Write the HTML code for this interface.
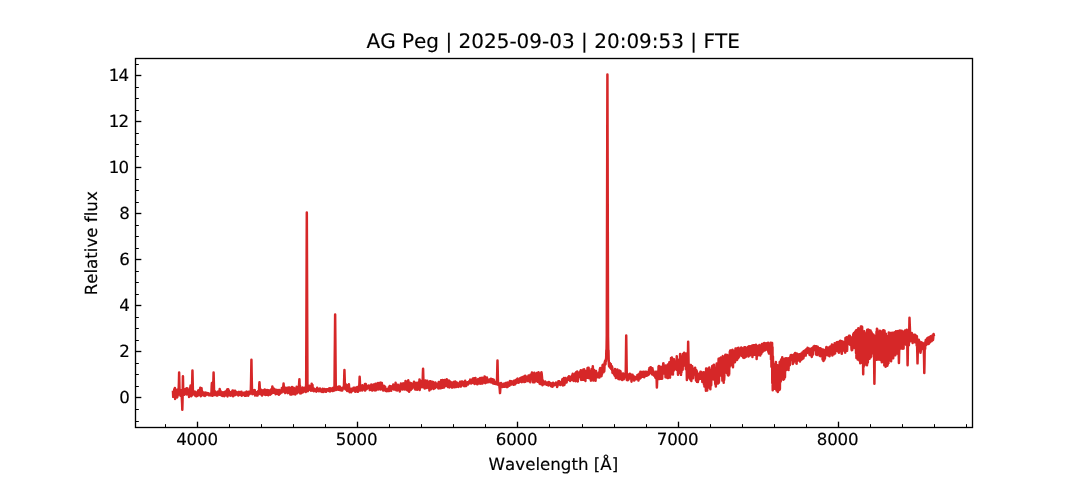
<!DOCTYPE html>
<html lang="en"><head><meta charset="utf-8"><title>AG Peg | 2025-09-03 | 20:09:53 | FTE</title>
<style>
html,body{margin:0;padding:0;background:#fff;overflow:hidden}
svg{display:block}
text{font-family:"DejaVu Sans","Liberation Sans",sans-serif;font-size:16.667px;fill:#000;stroke:#000;stroke-width:0.15px;font-variant-ligatures:none;font-feature-settings:"liga" 0,"clig" 0;font-kerning:none;text-rendering:geometricPrecision}
</style></head><body>
<svg width="1080" height="480" viewBox="0 0 1080 480">
<rect width="1080" height="480" fill="#fff"/>
<clipPath id="ax"><rect x="135" y="57.6" width="837" height="369.6"/></clipPath>
<g clip-path="url(#ax)">
<polyline points="173.00,392.02 173.21,396.85 173.42,392.28 173.63,393.43 173.85,393.72 174.06,391.61 174.27,389.31 174.48,395.68 174.69,394.73 174.90,388.09 175.11,398.99 175.33,396.56 175.54,391.29 175.75,396.28 175.96,392.22 176.17,393.42 176.38,395.85 176.59,390.09 176.81,395.20 177.02,397.41 177.23,397.14 177.44,392.84 177.65,395.98 177.86,389.38 178.07,393.22 178.28,394.82 178.50,390.09 178.71,388.70 178.92,382.46 179.13,372.50 179.34,381.50 179.55,390.60 179.76,391.09 179.98,390.41 180.19,389.85 180.40,395.14 180.61,395.72 180.82,391.89 181.03,390.33 181.24,394.39 181.46,394.50 181.67,393.26 181.88,399.37 182.09,403.08 182.30,409.75 182.51,401.93 182.72,390.66 182.94,376.15 183.15,387.42 183.36,393.48 183.57,394.34 183.78,393.91 183.99,394.48 184.20,394.45 184.42,394.59 184.63,391.18 184.84,393.74 185.05,389.23 185.26,393.58 185.47,389.83 185.68,392.67 185.89,393.99 186.11,391.69 186.32,392.96 186.53,388.33 186.74,390.31 186.95,394.43 187.16,389.32 187.37,394.29 187.59,388.57 187.80,390.04 188.01,389.64 188.22,392.71 188.43,394.17 188.64,390.10 188.85,392.46 189.07,397.03 189.28,392.30 189.49,391.20 189.70,394.13 189.91,392.77 190.12,390.34 190.33,387.09 190.55,385.62 190.76,388.20 190.97,391.72 191.18,391.35 191.39,396.13 191.60,395.03 191.81,395.47 192.03,388.28 192.24,379.86 192.45,370.62 192.66,380.28 192.87,388.98 193.08,393.73 193.29,393.30 193.51,392.76 193.72,392.51 193.93,394.48 194.14,393.67 194.35,391.62 194.56,393.88 194.77,395.43 194.98,393.82 195.20,391.67 195.41,393.67 195.62,394.82 195.83,393.83 196.04,392.64 196.25,396.31 196.46,396.34 196.68,392.70 196.89,394.43 197.10,393.45 197.31,394.23 197.52,395.77 197.73,394.26 197.94,392.50 198.16,390.70 198.37,390.30 198.58,392.19 198.79,395.06 199.00,392.96 199.21,392.34 199.42,392.84 199.64,392.28 199.85,393.53 200.06,389.37 200.27,387.79 200.48,391.08 200.69,389.24 200.90,396.19 201.12,391.70 201.33,391.45 201.54,388.16 201.75,392.79 201.96,390.70 202.17,395.04 202.38,394.59 202.59,392.15 202.81,394.32 203.02,392.24 203.23,393.76 203.44,395.47 203.65,395.05 203.86,394.47 204.07,394.27 204.29,392.97 204.50,393.00 204.71,394.46 204.92,395.90 205.13,392.44 205.34,394.81 205.55,394.77 205.77,395.10 205.98,393.32 206.19,393.63 206.40,394.18 206.61,393.10 206.82,392.88 207.03,393.20 207.25,394.00 207.46,394.44 207.67,394.02 207.88,394.11 208.09,393.31 208.30,393.25 208.51,395.16 208.73,393.91 208.94,393.87 209.15,394.94 209.36,395.26 209.57,395.29 209.78,394.35 209.99,393.85 210.21,394.21 210.42,394.08 210.63,395.39 210.84,394.18 211.05,394.55 211.26,393.81 211.47,392.58 211.68,386.48 211.90,383.12 212.11,387.57 212.32,390.38 212.53,395.83 212.74,393.60 212.95,393.58 213.16,388.02 213.38,381.11 213.59,372.50 213.80,380.45 214.01,389.11 214.22,394.47 214.43,395.07 214.64,393.92 214.86,392.55 215.07,393.01 215.28,391.51 215.49,392.79 215.70,394.50 215.91,394.18 216.12,393.50 216.34,393.22 216.55,395.53 216.76,393.96 216.97,394.72 217.18,394.09 217.39,392.77 217.60,395.54 217.82,391.71 218.03,391.54 218.24,392.51 218.45,391.85 218.66,391.96 218.87,391.71 219.08,394.59 219.29,392.68 219.51,393.19 219.72,389.09 219.93,390.89 220.14,394.82 220.35,390.72 220.56,395.05 220.77,391.55 220.99,393.80 221.20,392.32 221.41,393.90 221.62,392.73 221.83,393.67 222.04,395.77 222.25,393.46 222.47,396.00 222.68,393.23 222.89,392.26 223.10,393.79 223.31,393.09 223.52,396.01 223.73,394.76 223.95,395.21 224.16,394.39 224.37,396.16 224.58,394.60 224.79,394.15 225.00,391.87 225.21,391.65 225.43,393.46 225.64,394.87 225.85,395.08 226.06,391.32 226.27,394.00 226.48,393.35 226.69,390.84 226.90,393.92 227.12,389.47 227.33,393.40 227.54,396.38 227.75,390.78 227.96,392.84 228.17,389.14 228.38,391.17 228.60,394.29 228.81,390.56 229.02,392.82 229.23,392.38 229.44,392.53 229.65,393.66 229.86,394.24 230.08,395.40 230.29,394.90 230.50,393.30 230.71,395.65 230.92,395.45 231.13,391.97 231.34,394.69 231.56,394.87 231.77,395.04 231.98,394.41 232.19,391.63 232.40,393.08 232.61,390.58 232.82,393.10 233.04,396.29 233.25,394.40 233.46,394.64 233.67,392.15 233.88,391.11 234.09,390.89 234.30,393.24 234.52,391.64 234.73,392.06 234.94,395.21 235.15,390.68 235.36,391.38 235.57,392.76 235.78,393.47 235.99,393.52 236.21,391.95 236.42,394.12 236.63,393.81 236.84,394.45 237.05,392.84 237.26,394.33 237.47,394.30 237.69,393.29 237.90,393.79 238.11,393.40 238.32,395.58 238.53,391.91 238.74,392.35 238.95,392.04 239.17,393.57 239.38,393.22 239.59,393.52 239.80,394.84 240.01,392.08 240.22,392.99 240.43,393.71 240.65,392.55 240.86,394.37 241.07,394.32 241.28,393.09 241.49,391.85 241.70,395.75 241.91,394.43 242.13,394.36 242.34,393.94 242.55,393.83 242.76,394.78 242.97,393.77 243.18,393.01 243.39,394.57 243.60,393.77 243.82,392.74 244.03,392.54 244.24,395.05 244.45,394.37 244.66,395.85 244.87,392.87 245.08,392.56 245.30,393.99 245.51,395.22 245.72,394.19 245.93,393.95 246.14,395.76 246.35,392.34 246.56,391.63 246.78,392.27 246.99,392.81 247.20,393.73 247.41,394.60 247.62,393.72 247.83,395.26 248.04,391.96 248.26,395.64 248.47,391.94 248.68,394.71 248.89,391.71 249.10,393.50 249.31,393.06 249.52,393.71 249.74,394.03 249.95,392.62 250.16,392.81 250.37,393.23 250.58,390.96 250.79,391.77 251.00,383.52 251.22,372.56 251.43,359.75 251.64,372.94 251.85,384.29 252.06,391.66 252.27,394.15 252.48,391.96 252.69,390.23 252.91,391.09 253.12,391.02 253.33,391.05 253.54,393.67 253.75,392.72 253.96,390.23 254.17,391.72 254.39,390.74 254.60,390.60 254.81,390.09 255.02,395.44 255.23,392.04 255.44,393.51 255.65,394.00 255.87,391.92 256.08,393.46 256.29,393.47 256.50,392.94 256.71,395.59 256.92,393.05 257.13,392.19 257.35,393.68 257.56,395.61 257.77,394.28 257.98,391.76 258.19,391.11 258.40,390.98 258.61,391.44 258.83,393.26 259.04,391.39 259.25,385.06 259.46,382.25 259.67,385.50 259.88,391.14 260.09,394.13 260.30,391.21 260.52,391.77 260.73,390.90 260.94,393.20 261.15,389.76 261.36,390.59 261.57,391.34 261.78,394.60 262.00,395.54 262.21,392.52 262.42,390.39 262.63,392.60 262.84,390.99 263.05,393.25 263.26,390.57 263.48,391.83 263.69,392.42 263.90,393.32 264.11,392.30 264.32,394.57 264.53,392.63 264.74,389.40 264.96,393.97 265.17,391.91 265.38,391.27 265.59,394.91 265.80,390.72 266.01,392.49 266.22,391.17 266.44,394.60 266.65,391.74 266.86,392.73 267.07,390.03 267.28,394.68 267.49,390.55 267.70,393.80 267.92,394.12 268.13,394.30 268.34,395.20 268.55,390.36 268.76,392.92 268.97,392.47 269.18,392.91 269.39,394.01 269.61,392.38 269.82,390.85 270.03,392.01 270.24,394.68 270.45,390.20 270.66,392.25 270.87,390.49 271.09,393.92 271.30,389.35 271.51,391.49 271.72,391.84 271.93,390.94 272.14,389.79 272.35,386.50 272.57,387.95 272.78,393.03 272.99,389.95 273.20,388.94 273.41,389.41 273.62,392.24 273.83,392.78 274.05,388.86 274.26,392.59 274.47,391.39 274.68,393.01 274.89,391.16 275.10,393.31 275.31,392.73 275.53,389.77 275.74,394.20 275.95,392.09 276.16,392.95 276.37,393.85 276.58,390.01 276.79,391.52 277.00,390.24 277.22,390.02 277.43,392.07 277.64,392.19 277.85,393.92 278.06,394.02 278.27,391.56 278.48,390.12 278.70,394.77 278.91,394.78 279.12,391.40 279.33,389.90 279.54,390.81 279.75,392.09 279.96,393.67 280.18,393.38 280.39,392.38 280.60,391.10 280.81,391.88 281.02,390.97 281.23,391.69 281.44,391.36 281.66,392.57 281.87,388.09 282.08,390.87 282.29,390.97 282.50,389.30 282.71,391.19 282.92,389.42 283.14,388.68 283.35,386.38 283.56,383.50 283.77,386.15 283.98,391.44 284.19,391.89 284.40,392.12 284.62,391.92 284.83,390.06 285.04,389.60 285.25,393.10 285.46,390.64 285.67,387.74 285.88,387.72 286.09,391.76 286.31,389.78 286.52,391.13 286.73,390.13 286.94,390.39 287.15,390.85 287.36,388.65 287.57,391.13 287.79,393.15 288.00,392.54 288.21,387.57 288.42,388.36 288.63,388.36 288.84,390.54 289.05,392.76 289.27,391.66 289.48,387.44 289.69,391.08 289.90,392.58 290.11,390.02 290.32,394.51 290.53,389.55 290.75,393.28 290.96,394.50 291.17,388.16 291.38,390.12 291.59,391.99 291.80,394.49 292.01,386.98 292.23,391.92 292.44,391.30 292.65,389.76 292.86,388.83 293.07,389.48 293.28,389.94 293.49,387.78 293.70,394.06 293.92,388.07 294.13,389.56 294.34,389.01 294.55,389.54 294.76,390.67 294.97,388.70 295.18,389.87 295.40,394.38 295.61,392.82 295.82,389.65 296.03,392.44 296.24,388.45 296.45,390.79 296.66,386.78 296.88,387.42 297.09,388.05 297.30,393.18 297.51,390.68 297.72,391.45 297.93,390.44 298.14,390.95 298.36,391.07 298.57,391.93 298.78,390.36 298.99,385.73 299.20,382.67 299.41,379.37 299.62,384.82 299.84,388.57 300.05,386.06 300.26,393.45 300.47,390.62 300.68,389.77 300.89,389.97 301.10,389.23 301.31,393.16 301.53,392.89 301.74,388.21 301.95,389.68 302.16,390.44 302.37,391.78 302.58,387.54 302.79,391.22 303.01,392.20 303.22,389.46 303.43,389.82 303.64,391.56 303.85,390.34 304.06,387.97 304.27,388.16 304.49,388.32 304.70,387.76 304.91,389.68 305.12,388.95 305.33,389.70 305.54,390.60 305.75,392.08 305.97,389.87 306.18,382.77 306.39,328.93 306.60,270.02 306.81,212.50 307.02,269.82 307.23,327.83 307.45,384.89 307.66,389.32 307.87,391.15 308.08,388.37 308.29,389.52 308.50,389.57 308.71,388.67 308.93,386.40 309.14,389.53 309.35,385.80 309.56,385.96 309.77,387.66 309.98,389.25 310.19,390.05 310.40,389.92 310.62,389.32 310.83,386.95 311.04,390.69 311.25,386.85 311.46,390.44 311.67,383.74 311.88,385.83 312.10,386.89 312.31,388.26 312.52,385.04 312.73,390.02 312.94,390.38 313.15,390.09 313.36,388.23 313.58,391.13 313.79,388.56 314.00,390.41 314.21,389.21 314.42,389.27 314.63,389.12 314.84,389.30 315.06,390.66 315.27,391.09 315.48,391.11 315.69,390.53 315.90,390.28 316.11,390.06 316.32,391.65 316.54,389.07 316.75,388.88 316.96,389.73 317.17,387.72 317.38,389.46 317.59,389.72 317.80,388.63 318.01,389.22 318.23,390.75 318.44,389.74 318.65,390.14 318.86,391.26 319.07,389.49 319.28,388.97 319.49,390.23 319.71,390.78 319.92,388.47 320.13,391.09 320.34,390.13 320.55,390.07 320.76,389.69 320.97,390.36 321.19,391.39 321.40,391.00 321.61,391.23 321.82,390.19 322.03,391.87 322.24,391.58 322.45,390.44 322.67,388.79 322.88,390.47 323.09,392.06 323.30,390.33 323.51,389.46 323.72,391.83 323.93,389.78 324.15,390.74 324.36,390.96 324.57,388.96 324.78,390.36 324.99,391.28 325.20,389.92 325.41,390.77 325.63,390.15 325.84,391.06 326.05,391.78 326.26,389.13 326.47,389.83 326.68,390.42 326.89,389.49 327.10,389.29 327.32,389.70 327.53,389.75 327.74,389.37 327.95,390.24 328.16,390.65 328.37,390.57 328.58,390.48 328.80,390.94 329.01,388.53 329.22,389.67 329.43,389.93 329.64,390.22 329.85,388.16 330.06,391.46 330.28,388.79 330.49,389.87 330.70,390.30 330.91,390.61 331.12,388.86 331.33,388.97 331.54,389.84 331.76,390.03 331.97,390.33 332.18,389.34 332.39,388.67 332.60,387.99 332.81,391.08 333.02,387.88 333.24,389.97 333.45,389.51 333.66,389.99 333.87,390.16 334.08,390.55 334.29,389.06 334.50,387.69 334.71,361.74 334.93,338.74 335.14,314.45 335.35,338.62 335.56,363.76 335.77,387.24 335.98,390.09 336.19,388.68 336.41,389.30 336.62,388.40 336.83,386.82 337.04,388.03 337.25,388.48 337.46,388.92 337.67,388.72 337.89,388.56 338.10,389.71 338.31,389.33 338.52,388.18 338.73,389.56 338.94,386.51 339.15,388.23 339.37,388.36 339.58,389.95 339.79,387.87 340.00,386.79 340.21,388.61 340.42,390.34 340.63,388.09 340.85,388.19 341.06,388.02 341.27,388.30 341.48,389.84 341.69,390.49 341.90,388.74 342.11,387.96 342.33,390.48 342.54,388.16 342.75,388.08 342.96,387.45 343.17,387.47 343.38,388.23 343.59,387.43 343.80,388.43 344.02,383.89 344.23,377.22 344.44,370.00 344.65,376.70 344.86,383.94 345.07,387.71 345.28,387.73 345.50,389.44 345.71,385.72 345.92,384.43 346.13,388.65 346.34,386.99 346.55,389.87 346.76,387.29 346.98,385.18 347.19,391.05 347.40,388.35 347.61,386.54 347.82,385.85 348.03,388.87 348.24,385.95 348.46,388.56 348.67,390.58 348.88,384.37 349.09,387.31 349.30,389.52 349.51,392.17 349.72,390.87 349.94,388.65 350.15,391.99 350.36,389.48 350.57,390.03 350.78,390.68 350.99,389.04 351.20,392.23 351.41,391.50 351.63,390.39 351.84,389.50 352.05,388.81 352.26,390.48 352.47,390.81 352.68,389.57 352.89,389.76 353.11,390.57 353.32,389.86 353.53,387.83 353.74,390.61 353.95,390.11 354.16,390.62 354.37,388.93 354.59,387.67 354.80,388.32 355.01,390.03 355.22,391.77 355.43,391.77 355.64,389.97 355.85,387.84 356.07,389.15 356.28,390.09 356.49,390.06 356.70,389.60 356.91,391.19 357.12,388.25 357.33,386.97 357.55,388.19 357.76,387.76 357.97,391.84 358.18,389.03 358.39,387.23 358.60,390.14 358.81,390.69 359.03,389.27 359.24,386.63 359.45,382.24 359.66,376.87 359.87,381.16 360.08,387.00 360.29,390.45 360.50,389.45 360.72,390.24 360.93,389.71 361.14,388.30 361.35,388.37 361.56,389.57 361.77,387.54 361.98,390.35 362.20,390.41 362.41,385.17 362.62,388.06 362.83,386.80 363.04,386.92 363.25,388.23 363.46,387.59 363.68,388.84 363.89,388.34 364.10,388.36 364.31,386.17 364.52,386.89 364.73,390.20 364.94,384.05 365.16,390.62 365.37,386.31 365.58,389.59 365.79,383.99 366.00,386.56 366.21,388.95 366.42,387.62 366.64,389.26 366.85,385.66 367.06,386.25 367.27,386.07 367.48,388.27 367.69,388.18 367.90,387.06 368.11,386.78 368.33,386.72 368.54,387.44 368.75,385.46 368.96,387.15 369.17,386.98 369.38,386.22 369.59,386.15 369.81,390.07 370.02,386.05 370.23,388.02 370.44,389.85 370.65,388.64 370.86,387.25 371.07,389.15 371.29,384.45 371.50,384.82 371.71,386.42 371.92,386.75 372.13,386.99 372.34,390.59 372.55,390.42 372.77,387.08 372.98,387.64 373.19,385.38 373.40,387.75 373.61,384.52 373.82,389.84 374.03,386.11 374.25,388.19 374.46,384.56 374.67,389.81 374.88,388.28 375.09,390.54 375.30,387.19 375.51,383.83 375.72,385.46 375.94,384.48 376.15,390.15 376.36,385.69 376.57,385.40 376.78,388.13 376.99,387.44 377.20,387.89 377.42,385.81 377.63,383.13 377.84,383.95 378.05,383.05 378.26,389.54 378.47,388.75 378.68,385.95 378.90,388.12 379.11,388.23 379.32,388.14 379.53,387.90 379.74,388.69 379.95,386.87 380.16,382.69 380.38,382.72 380.59,389.59 380.80,388.09 381.01,382.81 381.22,387.17 381.43,384.84 381.64,385.60 381.86,382.93 382.07,388.56 382.28,386.69 382.49,388.69 382.70,389.30 382.91,389.75 383.12,390.54 383.34,387.60 383.55,387.46 383.76,385.64 383.97,388.39 384.18,387.22 384.39,385.99 384.60,390.14 384.81,389.60 385.03,386.69 385.24,387.27 385.45,389.38 385.66,388.77 385.87,390.92 386.08,390.01 386.29,390.40 386.51,390.74 386.72,391.13 386.93,389.27 387.14,390.23 387.35,389.73 387.56,390.33 387.77,389.98 387.99,391.03 388.20,389.83 388.41,388.40 388.62,389.13 388.83,387.29 389.04,389.28 389.25,390.96 389.47,387.75 389.68,386.05 389.89,388.38 390.10,387.62 390.31,388.35 390.52,387.29 390.73,388.33 390.95,386.35 391.16,390.80 391.37,387.55 391.58,388.83 391.79,389.24 392.00,387.44 392.21,388.54 392.42,387.09 392.64,386.60 392.85,386.96 393.06,388.37 393.27,384.57 393.48,385.23 393.69,385.35 393.90,385.82 394.12,389.59 394.33,386.93 394.54,386.29 394.75,387.26 394.96,389.26 395.17,385.21 395.38,389.12 395.60,382.87 395.81,384.80 396.02,390.04 396.23,390.19 396.44,387.17 396.65,385.77 396.86,388.67 397.08,385.80 397.29,390.46 397.50,389.64 397.71,388.67 397.92,384.72 398.13,389.26 398.34,386.20 398.56,386.24 398.77,385.75 398.98,386.55 399.19,388.20 399.40,389.16 399.61,389.21 399.82,391.55 400.04,385.96 400.25,389.98 400.46,384.94 400.67,386.11 400.88,383.51 401.09,389.52 401.30,386.99 401.51,386.56 401.73,385.86 401.94,388.24 402.15,384.79 402.36,386.76 402.57,389.57 402.78,385.43 402.99,384.30 403.21,383.38 403.42,387.55 403.63,385.81 403.84,383.88 404.05,383.66 404.26,385.64 404.47,383.19 404.69,389.46 404.90,385.04 405.11,385.04 405.32,385.22 405.53,381.06 405.74,381.89 405.95,384.48 406.17,385.27 406.38,382.29 406.59,389.65 406.80,386.68 407.01,389.03 407.22,388.85 407.43,385.04 407.65,390.53 407.86,386.17 408.07,380.34 408.28,380.28 408.49,386.00 408.70,388.89 408.91,386.36 409.12,391.75 409.34,385.23 409.55,388.32 409.76,389.04 409.97,382.73 410.18,387.45 410.39,387.46 410.60,389.74 410.82,389.86 411.03,388.86 411.24,383.20 411.45,387.60 411.66,388.36 411.87,385.17 412.08,387.20 412.30,387.28 412.51,388.48 412.72,385.31 412.93,386.48 413.14,385.67 413.35,385.30 413.56,383.29 413.78,384.11 413.99,381.75 414.20,384.52 414.41,387.21 414.62,387.01 414.83,387.42 415.04,384.79 415.26,389.46 415.47,383.73 415.68,387.56 415.89,386.48 416.10,382.82 416.31,382.93 416.52,387.41 416.74,385.12 416.95,385.74 417.16,389.80 417.37,386.42 417.58,385.03 417.79,386.69 418.00,382.85 418.21,384.02 418.43,385.81 418.64,382.27 418.85,384.57 419.06,384.16 419.27,385.08 419.48,379.45 419.69,389.97 419.91,384.64 420.12,386.70 420.33,381.69 420.54,380.82 420.75,385.12 420.96,383.92 421.17,386.92 421.39,381.95 421.60,381.76 421.81,385.67 422.02,386.65 422.23,387.18 422.44,384.41 422.65,381.50 422.87,373.98 423.08,368.75 423.29,376.19 423.50,383.57 423.71,380.16 423.92,387.34 424.13,382.73 424.35,386.33 424.56,386.15 424.77,388.57 424.98,384.15 425.19,383.59 425.40,381.27 425.61,380.51 425.82,386.60 426.04,381.20 426.25,386.94 426.46,383.02 426.67,382.32 426.88,388.00 427.09,387.63 427.30,380.74 427.52,383.79 427.73,384.38 427.94,386.89 428.15,381.67 428.36,382.85 428.57,383.98 428.78,386.99 429.00,387.80 429.21,382.96 429.42,390.49 429.63,386.51 429.84,382.99 430.05,381.14 430.26,384.40 430.48,381.30 430.69,386.52 430.90,387.45 431.11,389.20 431.32,387.29 431.53,381.94 431.74,385.31 431.96,387.54 432.17,381.79 432.38,384.02 432.59,387.14 432.80,385.86 433.01,381.91 433.22,384.62 433.44,385.64 433.65,388.92 433.86,384.66 434.07,383.70 434.28,385.91 434.49,386.05 434.70,386.49 434.91,388.20 435.13,385.14 435.34,382.45 435.55,385.28 435.76,385.20 435.97,387.13 436.18,386.84 436.39,383.50 436.61,386.63 436.82,387.09 437.03,384.53 437.24,386.93 437.45,385.21 437.66,385.20 437.87,384.45 438.09,386.51 438.30,388.49 438.51,385.16 438.72,382.00 438.93,384.05 439.14,383.21 439.35,385.24 439.57,384.14 439.78,388.37 439.99,386.12 440.20,388.31 440.41,382.66 440.62,383.78 440.83,388.18 441.05,380.30 441.26,384.48 441.47,380.53 441.68,387.62 441.89,380.77 442.10,383.30 442.31,383.55 442.52,380.04 442.74,387.79 442.95,383.45 443.16,387.57 443.37,382.17 443.58,380.38 443.79,384.17 444.00,384.07 444.22,387.49 444.43,381.17 444.64,379.98 444.85,381.89 445.06,384.13 445.27,384.68 445.48,381.68 445.70,382.54 445.91,384.52 446.12,385.69 446.33,381.88 446.54,383.52 446.75,379.13 446.96,381.01 447.18,384.22 447.39,383.21 447.60,382.81 447.81,387.01 448.02,382.57 448.23,380.66 448.44,383.75 448.66,383.75 448.87,380.51 449.08,385.68 449.29,387.41 449.50,381.83 449.71,381.13 449.92,383.08 450.13,386.38 450.35,382.10 450.56,381.85 450.77,382.30 450.98,384.27 451.19,384.30 451.40,383.58 451.61,386.48 451.83,387.56 452.04,383.12 452.25,386.27 452.46,384.92 452.67,387.55 452.88,382.89 453.09,383.84 453.31,384.63 453.52,381.98 453.73,384.08 453.94,385.65 454.15,382.01 454.36,384.65 454.57,387.32 454.79,383.46 455.00,382.98 455.21,381.50 455.42,384.26 455.63,381.88 455.84,385.30 456.05,386.97 456.27,385.29 456.48,383.23 456.69,385.41 456.90,383.73 457.11,382.77 457.32,383.70 457.53,384.77 457.75,383.91 457.96,385.17 458.17,386.89 458.38,385.27 458.59,385.45 458.80,383.52 459.01,386.19 459.22,384.83 459.44,385.71 459.65,383.21 459.86,384.58 460.07,381.65 460.28,383.69 460.49,382.97 460.70,382.70 460.92,386.57 461.13,381.86 461.34,383.81 461.55,383.79 461.76,384.74 461.97,385.41 462.18,381.54 462.40,383.06 462.61,382.78 462.82,384.84 463.03,385.17 463.24,383.11 463.45,382.88 463.66,382.12 463.88,384.20 464.09,386.17 464.30,384.16 464.51,382.44 464.72,382.20 464.93,382.35 465.14,380.82 465.36,386.12 465.57,383.43 465.78,382.73 465.99,386.07 466.20,383.52 466.41,385.51 466.62,383.49 466.83,384.80 467.05,383.06 467.26,382.28 467.47,383.52 467.68,383.98 467.89,384.56 468.10,383.02 468.31,382.20 468.53,381.94 468.74,383.05 468.95,381.63 469.16,381.85 469.37,383.30 469.58,383.33 469.79,383.14 470.01,380.89 470.22,379.61 470.43,382.58 470.64,382.25 470.85,381.32 471.06,382.31 471.27,383.42 471.49,381.50 471.70,382.55 471.91,380.04 472.12,381.37 472.33,380.25 472.54,379.11 472.75,382.46 472.97,378.43 473.18,381.51 473.39,382.99 473.60,382.28 473.81,378.74 474.02,381.93 474.23,378.26 474.45,379.84 474.66,383.98 474.87,381.66 475.08,383.46 475.29,379.34 475.50,378.08 475.71,379.91 475.92,383.53 476.14,382.85 476.35,383.09 476.56,380.87 476.77,380.95 476.98,380.72 477.19,384.24 477.40,381.18 477.62,384.17 477.83,380.63 478.04,383.42 478.25,378.91 478.46,379.93 478.67,381.46 478.88,379.72 479.10,379.99 479.31,380.41 479.52,379.66 479.73,383.53 479.94,382.72 480.15,377.93 480.36,383.76 480.58,380.42 480.79,380.40 481.00,380.10 481.21,382.05 481.42,381.71 481.63,379.31 481.84,380.38 482.06,377.71 482.27,383.60 482.48,378.51 482.69,378.40 482.90,378.69 483.11,380.34 483.32,381.51 483.53,379.29 483.75,380.01 483.96,379.24 484.17,382.46 484.38,380.31 484.59,376.40 484.80,382.76 485.01,380.43 485.23,383.25 485.44,378.71 485.65,379.03 485.86,379.71 486.07,377.62 486.28,379.53 486.49,382.33 486.71,381.44 486.92,377.52 487.13,382.40 487.34,381.04 487.55,381.74 487.76,380.71 487.97,380.97 488.19,380.86 488.40,380.92 488.61,379.73 488.82,382.15 489.03,381.20 489.24,381.38 489.45,381.32 489.67,380.54 489.88,380.81 490.09,379.26 490.30,381.17 490.51,381.17 490.72,380.52 490.93,378.64 491.15,382.48 491.36,380.54 491.57,380.72 491.78,380.32 491.99,379.93 492.20,380.16 492.41,379.18 492.62,380.02 492.84,383.28 493.05,382.65 493.26,383.53 493.47,380.88 493.68,379.72 493.89,380.56 494.10,380.27 494.32,383.45 494.53,383.73 494.74,382.90 494.95,383.32 495.16,383.44 495.37,383.12 495.58,383.99 495.80,382.46 496.01,383.09 496.22,383.47 496.43,381.95 496.64,382.71 496.85,384.24 497.06,378.86 497.28,368.85 497.49,360.62 497.70,369.86 497.91,379.44 498.12,384.08 498.33,384.82 498.54,382.90 498.76,384.09 498.97,383.25 499.18,383.88 499.39,385.75 499.60,387.81 499.81,389.81 500.02,393.12 500.23,390.23 500.45,387.08 500.66,386.82 500.87,385.59 501.08,382.89 501.29,385.08 501.50,384.72 501.71,384.24 501.93,385.34 502.14,385.31 502.35,384.91 502.56,387.04 502.77,385.73 502.98,385.73 503.19,385.41 503.41,386.62 503.62,383.84 503.83,386.56 504.04,384.80 504.25,386.86 504.46,386.76 504.67,385.59 504.89,384.37 505.10,385.25 505.31,385.31 505.52,382.92 505.73,384.34 505.94,383.80 506.15,386.53 506.37,386.96 506.58,383.60 506.79,383.82 507.00,382.65 507.21,384.84 507.42,385.59 507.63,386.96 507.85,382.45 508.06,385.68 508.27,384.03 508.48,383.11 508.69,383.63 508.90,382.92 509.11,384.70 509.32,383.94 509.54,385.67 509.75,382.99 509.96,380.95 510.17,382.16 510.38,384.07 510.59,381.30 510.80,382.30 511.02,384.12 511.23,381.25 511.44,384.41 511.65,383.60 511.86,382.19 512.07,382.89 512.28,382.16 512.50,382.24 512.71,382.26 512.92,382.68 513.13,382.45 513.34,381.46 513.55,381.06 513.76,384.83 513.98,380.76 514.19,381.99 514.40,383.75 514.61,383.39 514.82,380.99 515.03,384.32 515.24,384.23 515.46,381.36 515.67,380.05 515.88,382.55 516.09,381.38 516.30,381.17 516.51,380.40 516.72,380.63 516.93,381.65 517.15,382.65 517.36,378.69 517.57,378.62 517.78,382.60 517.99,379.93 518.20,382.11 518.41,381.21 518.63,382.84 518.84,382.29 519.05,380.48 519.26,380.60 519.47,381.27 519.68,381.86 519.89,379.73 520.11,378.31 520.32,380.73 520.53,380.46 520.74,380.23 520.95,378.86 521.16,381.31 521.37,377.59 521.59,379.48 521.80,382.26 522.01,378.32 522.22,380.74 522.43,380.74 522.64,380.65 522.85,377.05 523.07,381.52 523.28,379.99 523.49,380.54 523.70,380.15 523.91,379.66 524.12,381.66 524.33,382.01 524.54,376.10 524.76,377.89 524.97,378.94 525.18,375.83 525.39,381.85 525.60,377.60 525.81,380.06 526.02,379.35 526.24,378.45 526.45,376.85 526.66,378.04 526.87,378.86 527.08,380.18 527.29,378.15 527.50,377.70 527.72,377.93 527.93,381.12 528.14,378.95 528.35,376.79 528.56,375.40 528.77,377.22 528.98,375.98 529.20,377.04 529.41,381.24 529.62,379.61 529.83,378.43 530.04,378.82 530.25,382.16 530.46,374.71 530.68,378.81 530.89,377.01 531.10,377.89 531.31,377.67 531.52,376.60 531.73,378.98 531.94,372.57 532.16,378.29 532.37,379.37 532.58,374.89 532.79,374.84 533.00,382.21 533.21,375.08 533.42,376.51 533.63,375.45 533.85,375.89 534.06,375.74 534.27,372.74 534.48,382.20 534.69,375.62 534.90,378.60 535.11,377.38 535.33,381.28 535.54,379.53 535.75,380.78 535.96,380.93 536.17,380.05 536.38,377.79 536.59,380.33 536.81,373.09 537.02,380.34 537.23,379.83 537.44,378.68 537.65,373.78 537.86,381.86 538.07,375.76 538.29,379.77 538.50,372.32 538.71,377.31 538.92,375.83 539.13,375.41 539.34,375.77 539.55,383.49 539.77,377.83 539.98,379.09 540.19,383.93 540.40,373.19 540.61,383.99 540.82,377.15 541.03,376.25 541.24,377.20 541.46,372.33 541.67,373.75 541.88,375.80 542.09,378.43 542.30,383.55 542.51,385.22 542.72,380.37 542.94,383.05 543.15,383.43 543.36,381.74 543.57,383.24 543.78,381.45 543.99,384.32 544.20,382.66 544.42,383.38 544.63,383.96 544.84,383.86 545.05,382.40 545.26,381.51 545.47,383.88 545.68,383.21 545.90,383.29 546.11,383.97 546.32,383.06 546.53,384.80 546.74,384.71 546.95,382.83 547.16,384.64 547.38,382.79 547.59,385.09 547.80,384.92 548.01,384.09 548.22,385.22 548.43,385.36 548.64,384.62 548.86,381.91 549.07,384.23 549.28,384.30 549.49,385.03 549.70,383.08 549.91,385.11 550.12,384.80 550.33,384.95 550.55,383.07 550.76,383.60 550.97,386.13 551.18,385.86 551.39,384.81 551.60,386.39 551.81,385.43 552.03,384.64 552.24,383.18 552.45,386.71 552.66,385.15 552.87,385.61 553.08,382.81 553.29,384.46 553.51,385.57 553.72,384.77 553.93,384.05 554.14,383.47 554.35,385.27 554.56,384.41 554.77,384.41 554.99,384.43 555.20,383.87 555.41,384.28 555.62,383.82 555.83,384.70 556.04,382.61 556.25,382.96 556.47,384.57 556.68,384.23 556.89,384.67 557.10,387.12 557.31,385.47 557.52,386.01 557.73,384.89 557.94,384.03 558.16,382.94 558.37,381.33 558.58,381.88 558.79,381.20 559.00,382.15 559.21,381.28 559.42,382.15 559.64,383.58 559.85,382.84 560.06,384.89 560.27,384.83 560.48,384.95 560.69,384.59 560.90,383.47 561.12,382.00 561.33,383.61 561.54,382.25 561.75,382.23 561.96,383.25 562.17,380.38 562.38,379.25 562.60,382.81 562.81,385.48 563.02,384.14 563.23,385.37 563.44,379.04 563.65,380.41 563.86,378.03 564.08,379.75 564.29,385.01 564.50,384.59 564.71,379.08 564.92,380.41 565.13,379.25 565.34,378.07 565.56,380.17 565.77,379.87 565.98,380.56 566.19,380.73 566.40,381.39 566.61,382.47 566.82,379.66 567.03,379.29 567.25,379.53 567.46,380.13 567.67,379.01 567.88,377.46 568.09,378.10 568.30,379.96 568.51,377.07 568.73,379.73 568.94,376.31 569.15,379.34 569.36,379.27 569.57,377.93 569.78,378.18 569.99,377.77 570.21,380.98 570.42,377.29 570.63,376.71 570.84,378.62 571.05,379.92 571.26,378.46 571.47,377.50 571.69,379.69 571.90,376.20 572.11,376.08 572.32,375.09 572.53,379.97 572.74,373.79 572.95,374.72 573.17,377.88 573.38,378.18 573.59,381.02 573.80,378.13 574.01,376.04 574.22,380.21 574.43,379.47 574.64,379.66 574.86,379.43 575.07,378.10 575.28,373.33 575.49,374.22 575.70,381.23 575.91,376.87 576.12,372.14 576.34,376.84 576.55,379.25 576.76,377.71 576.97,376.64 577.18,371.61 577.39,376.71 577.60,376.11 577.82,381.41 578.03,376.49 578.24,376.30 578.45,375.10 578.66,376.05 578.87,377.25 579.08,374.78 579.30,373.57 579.51,372.38 579.72,376.72 579.93,375.15 580.14,375.22 580.35,371.21 580.56,373.49 580.78,370.34 580.99,379.22 581.20,379.92 581.41,377.30 581.62,375.51 581.83,377.39 582.04,370.79 582.26,371.26 582.47,379.63 582.68,372.10 582.89,375.38 583.10,373.22 583.31,369.54 583.52,373.09 583.73,378.15 583.95,379.78 584.16,369.26 584.37,369.74 584.58,373.11 584.79,378.55 585.00,379.31 585.21,380.57 585.43,380.89 585.64,373.36 585.85,371.28 586.06,378.08 586.27,373.79 586.48,374.77 586.69,373.31 586.91,373.13 587.12,377.85 587.33,370.73 587.54,368.02 587.75,371.74 587.96,374.66 588.17,373.08 588.39,373.64 588.60,367.63 588.81,370.73 589.02,378.09 589.23,373.28 589.44,371.27 589.65,378.15 589.87,371.58 590.08,376.63 590.29,374.53 590.50,375.26 590.71,377.75 590.92,380.67 591.13,378.72 591.34,370.15 591.56,369.03 591.77,372.19 591.98,372.79 592.19,376.37 592.40,373.59 592.61,374.27 592.82,366.29 593.04,373.18 593.25,375.72 593.46,380.61 593.67,377.00 593.88,374.48 594.09,370.01 594.30,374.51 594.52,374.76 594.73,374.49 594.94,375.64 595.15,376.81 595.36,376.68 595.57,380.73 595.78,372.62 596.00,371.03 596.21,376.74 596.42,372.26 596.63,375.05 596.84,375.37 597.05,373.38 597.26,377.20 597.48,376.63 597.69,375.17 597.90,376.14 598.11,376.61 598.32,373.44 598.53,375.52 598.74,374.17 598.95,373.61 599.17,372.23 599.38,377.62 599.59,373.82 599.80,369.16 600.01,373.83 600.22,368.01 600.43,372.89 600.65,374.02 600.86,375.59 601.07,372.16 601.28,369.48 601.49,376.19 601.70,373.86 601.91,374.39 602.13,369.79 602.34,372.09 602.55,365.15 602.76,371.23 602.97,364.85 603.18,366.53 603.39,365.07 603.61,372.17 603.82,371.24 604.03,366.70 604.24,371.33 604.45,367.68 604.66,362.34 604.87,365.20 605.09,360.92 605.30,364.61 605.51,364.09 605.72,359.56 605.93,361.47 606.14,359.25 606.35,350.45 606.57,349.20 606.78,335.06 606.99,246.08 607.20,159.99 607.41,74.40 607.62,158.31 607.83,246.43 608.04,336.74 608.26,349.77 608.47,350.44 608.68,360.16 608.89,364.20 609.10,366.40 609.31,363.78 609.52,363.30 609.74,362.83 609.95,367.46 610.16,367.02 610.37,367.64 610.58,366.58 610.79,364.06 611.00,368.28 611.22,368.92 611.43,368.66 611.64,365.93 611.85,369.40 612.06,369.98 612.27,367.34 612.48,372.67 612.70,370.89 612.91,371.58 613.12,372.50 613.33,370.84 613.54,371.51 613.75,373.38 613.96,374.16 614.18,374.66 614.39,371.85 614.60,374.59 614.81,375.73 615.02,369.05 615.23,371.82 615.44,372.96 615.65,373.14 615.87,378.00 616.08,376.49 616.29,373.11 616.50,373.28 616.71,370.01 616.92,371.20 617.13,377.41 617.35,369.53 617.56,375.73 617.77,372.35 617.98,373.47 618.19,374.09 618.40,378.99 618.61,375.39 618.83,375.89 619.04,377.25 619.25,370.49 619.46,379.28 619.67,370.82 619.88,373.27 620.09,376.80 620.31,372.22 620.52,371.12 620.73,378.15 620.94,374.70 621.15,377.75 621.36,376.75 621.57,375.21 621.79,379.71 622.00,375.19 622.21,380.01 622.42,373.84 622.63,373.66 622.84,374.44 623.05,376.59 623.27,373.53 623.48,374.57 623.69,379.35 623.90,376.61 624.11,378.74 624.32,377.07 624.53,375.08 624.74,374.75 624.96,376.77 625.17,376.57 625.38,375.41 625.59,375.38 625.80,369.47 626.01,352.14 626.22,335.46 626.44,351.17 626.65,366.77 626.86,380.01 627.07,375.64 627.28,380.00 627.49,375.62 627.70,374.15 627.92,380.17 628.13,376.74 628.34,379.87 628.55,377.89 628.76,376.63 628.97,378.98 629.18,376.62 629.40,378.11 629.61,377.01 629.82,373.74 630.03,378.20 630.24,376.32 630.45,377.18 630.66,378.41 630.88,374.52 631.09,378.80 631.30,378.95 631.51,381.64 631.72,379.61 631.93,378.59 632.14,376.38 632.35,377.85 632.57,374.71 632.78,378.92 632.99,377.66 633.20,377.40 633.41,378.24 633.62,379.12 633.83,378.80 634.05,376.37 634.26,380.62 634.47,378.57 634.68,379.08 634.89,378.66 635.10,377.36 635.31,378.89 635.53,377.85 635.74,377.06 635.95,378.39 636.16,379.26 636.37,378.95 636.58,378.19 636.79,376.76 637.01,377.12 637.22,377.33 637.43,374.93 637.64,378.81 637.85,377.41 638.06,374.74 638.27,379.90 638.49,380.47 638.70,374.24 638.91,376.35 639.12,374.88 639.33,378.11 639.54,373.45 639.75,377.35 639.97,377.03 640.18,378.53 640.39,371.72 640.60,373.77 640.81,374.93 641.02,377.71 641.23,375.31 641.44,376.91 641.66,375.96 641.87,371.97 642.08,374.29 642.29,373.68 642.50,374.04 642.71,372.78 642.92,376.68 643.14,375.74 643.35,371.82 643.56,376.65 643.77,374.45 643.98,372.79 644.19,377.28 644.40,375.08 644.62,375.63 644.83,374.69 645.04,374.76 645.25,371.66 645.46,375.96 645.67,373.25 645.88,374.47 646.10,374.20 646.31,372.53 646.52,371.91 646.73,373.63 646.94,375.77 647.15,372.51 647.36,372.45 647.58,373.28 647.79,371.89 648.00,374.60 648.21,372.91 648.42,375.02 648.63,371.85 648.84,374.56 649.05,369.65 649.27,370.92 649.48,367.93 649.69,368.97 649.90,368.78 650.11,370.82 650.32,372.76 650.53,369.48 650.75,367.20 650.96,370.63 651.17,370.56 651.38,370.18 651.59,373.32 651.80,374.17 652.01,370.53 652.23,370.63 652.44,368.33 652.65,371.03 652.86,374.53 653.07,370.52 653.28,374.92 653.49,374.48 653.71,374.46 653.92,374.62 654.13,372.99 654.34,375.80 654.55,376.01 654.76,374.36 654.97,373.49 655.19,376.98 655.40,377.64 655.61,371.83 655.82,376.00 656.03,373.76 656.24,378.81 656.45,374.00 656.67,380.30 656.88,387.49 657.09,382.52 657.30,371.48 657.51,375.56 657.72,371.44 657.93,377.93 658.14,378.71 658.36,377.13 658.57,366.38 658.78,367.43 658.99,366.10 659.20,379.01 659.41,370.32 659.62,370.93 659.84,372.61 660.05,374.71 660.26,370.96 660.47,372.45 660.68,372.08 660.89,366.77 661.10,378.80 661.32,378.78 661.53,371.93 661.74,371.19 661.95,378.71 662.16,378.69 662.37,371.75 662.58,374.05 662.80,369.58 663.01,372.76 663.22,363.38 663.43,363.24 663.64,373.10 663.85,370.15 664.06,372.74 664.28,371.22 664.49,373.59 664.70,371.91 664.91,369.84 665.12,372.56 665.33,367.33 665.54,377.19 665.75,365.61 665.97,368.30 666.18,374.60 666.39,368.26 666.60,374.78 666.81,377.24 667.02,373.81 667.23,367.52 667.45,378.00 667.66,371.96 667.87,364.50 668.08,377.91 668.29,370.33 668.50,372.56 668.71,374.00 668.93,366.34 669.14,373.90 669.35,362.18 669.56,363.47 669.77,366.60 669.98,377.62 670.19,371.97 670.41,375.08 670.62,365.99 670.83,371.41 671.04,357.92 671.25,366.73 671.46,370.45 671.67,364.53 671.89,357.41 672.10,358.25 672.31,370.43 672.52,373.92 672.73,364.64 672.94,374.49 673.15,359.90 673.36,369.07 673.58,367.35 673.79,370.50 674.00,359.17 674.21,369.66 674.42,365.83 674.63,361.78 674.84,363.43 675.06,364.42 675.27,366.62 675.48,361.50 675.69,361.36 675.90,365.76 676.11,365.16 676.32,367.77 676.54,369.84 676.75,356.34 676.96,364.82 677.17,366.51 677.38,365.52 677.59,359.42 677.80,369.29 678.02,374.79 678.23,364.39 678.44,360.76 678.65,370.16 678.86,365.64 679.07,366.31 679.28,367.05 679.50,362.70 679.71,365.62 679.92,360.90 680.13,354.08 680.34,373.08 680.55,367.94 680.76,365.25 680.98,374.86 681.19,364.19 681.40,372.58 681.61,370.25 681.82,362.61 682.03,356.16 682.24,367.03 682.45,365.18 682.67,369.75 682.88,353.89 683.09,362.29 683.30,364.15 683.51,364.51 683.72,362.96 683.93,364.45 684.15,352.77 684.36,361.56 684.57,359.63 684.78,354.05 684.99,365.64 685.20,362.50 685.41,357.22 685.63,355.61 685.84,369.12 686.05,353.53 686.26,366.70 686.47,358.38 686.68,368.44 686.89,380.06 687.11,374.90 687.32,367.07 687.53,377.75 687.74,370.23 687.95,354.21 688.16,341.85 688.37,352.35 688.59,364.61 688.80,367.37 689.01,366.16 689.22,368.70 689.43,364.80 689.64,368.80 689.85,378.60 690.06,373.86 690.28,369.26 690.49,379.76 690.70,378.92 690.91,365.01 691.12,367.31 691.33,381.05 691.54,371.95 691.76,372.35 691.97,368.64 692.18,366.21 692.39,377.03 692.60,368.65 692.81,374.32 693.02,378.31 693.24,374.35 693.45,372.29 693.66,374.62 693.87,374.54 694.08,372.13 694.29,374.06 694.50,369.97 694.72,368.25 694.93,371.80 695.14,367.84 695.35,371.46 695.56,373.27 695.77,374.47 695.98,380.51 696.20,370.08 696.41,372.35 696.62,372.80 696.83,371.16 697.04,381.87 697.25,373.08 697.46,375.50 697.68,375.98 697.89,381.88 698.10,376.09 698.31,375.25 698.52,379.94 698.73,376.26 698.94,373.96 699.15,379.13 699.37,378.51 699.58,373.48 699.79,373.52 700.00,375.73 700.21,373.41 700.42,371.83 700.63,372.21 700.85,378.72 701.06,377.00 701.27,372.06 701.48,374.29 701.69,375.21 701.90,374.10 702.11,375.25 702.33,381.92 702.54,373.34 702.75,372.93 702.96,376.24 703.17,373.61 703.38,374.88 703.59,375.09 703.81,372.32 704.02,384.69 704.23,374.37 704.44,386.54 704.65,373.49 704.86,373.17 705.07,380.98 705.29,377.55 705.50,384.91 705.71,383.76 705.92,390.63 706.13,368.62 706.34,372.32 706.55,378.92 706.76,377.79 706.98,378.83 707.19,390.46 707.40,368.64 707.61,383.59 707.82,377.50 708.03,379.00 708.24,386.15 708.46,378.38 708.67,384.08 708.88,387.48 709.09,386.77 709.30,367.42 709.51,373.82 709.72,369.15 709.94,372.65 710.15,376.57 710.36,389.17 710.57,372.95 710.78,374.92 710.99,375.42 711.20,385.31 711.42,372.46 711.63,378.06 711.84,379.71 712.05,377.86 712.26,366.02 712.47,367.34 712.68,377.67 712.90,365.62 713.11,373.05 713.32,365.57 713.53,377.06 713.74,379.60 713.95,364.80 714.16,373.33 714.38,367.75 714.59,371.30 714.80,378.50 715.01,377.73 715.22,383.56 715.43,384.59 715.64,376.49 715.85,386.52 716.07,369.28 716.28,367.59 716.49,371.23 716.70,363.47 716.91,364.69 717.12,365.24 717.33,377.89 717.55,364.83 717.76,364.50 717.97,383.53 718.18,366.20 718.39,368.15 718.60,358.70 718.81,382.74 719.03,380.90 719.24,359.80 719.45,364.44 719.66,367.65 719.87,358.15 720.08,375.16 720.29,362.26 720.51,372.10 720.72,375.44 720.93,357.45 721.14,372.43 721.35,359.85 721.56,370.21 721.77,373.29 721.99,365.08 722.20,371.36 722.41,380.61 722.62,357.50 722.83,356.12 723.04,363.77 723.25,378.25 723.46,361.06 723.68,382.66 723.89,360.59 724.10,380.19 724.31,377.02 724.52,368.34 724.73,373.05 724.94,357.62 725.16,355.80 725.37,354.89 725.58,356.03 725.79,366.20 726.00,354.67 726.21,355.05 726.42,366.42 726.64,368.57 726.85,356.35 727.06,373.22 727.27,354.88 727.48,369.13 727.69,356.30 727.90,375.11 728.12,372.40 728.33,375.53 728.54,360.60 728.75,373.69 728.96,368.81 729.17,374.40 729.38,360.11 729.60,367.39 729.81,351.72 730.02,351.64 730.23,350.50 730.44,350.90 730.65,351.51 730.86,358.28 731.08,358.04 731.29,365.29 731.50,350.33 731.71,362.17 731.92,356.27 732.13,358.78 732.34,350.10 732.55,349.75 732.77,357.48 732.98,367.31 733.19,356.64 733.40,357.67 733.61,358.82 733.82,350.90 734.03,362.59 734.25,350.63 734.46,353.38 734.67,353.45 734.88,362.23 735.09,360.53 735.30,353.89 735.51,348.62 735.73,348.87 735.94,348.69 736.15,358.18 736.36,356.18 736.57,350.53 736.78,349.24 736.99,359.97 737.21,359.56 737.42,348.24 737.63,354.41 737.84,358.15 738.05,353.69 738.26,357.95 738.47,347.68 738.69,352.47 738.90,349.47 739.11,356.82 739.32,351.95 739.53,355.48 739.74,351.98 739.95,353.41 740.16,353.92 740.38,355.26 740.59,348.78 740.80,353.83 741.01,348.89 741.22,347.48 741.43,350.94 741.64,353.31 741.86,355.89 742.07,353.18 742.28,349.17 742.49,348.36 742.70,353.52 742.91,348.91 743.12,357.43 743.34,351.72 743.55,352.14 743.76,355.19 743.97,357.88 744.18,350.98 744.39,347.19 744.60,350.69 744.82,357.49 745.03,355.79 745.24,354.95 745.45,347.35 745.66,347.80 745.87,356.76 746.08,349.56 746.30,352.54 746.51,349.64 746.72,350.04 746.93,354.38 747.14,351.08 747.35,347.75 747.56,351.13 747.77,351.35 747.99,350.15 748.20,346.64 748.41,356.39 748.62,348.86 748.83,348.51 749.04,346.18 749.25,354.26 749.47,351.83 749.68,355.11 749.89,355.47 750.10,352.70 750.31,346.34 750.52,350.09 750.73,354.51 750.95,349.07 751.16,350.26 751.37,346.17 751.58,347.61 751.79,350.42 752.00,354.53 752.21,345.62 752.43,357.01 752.64,345.46 752.85,352.53 753.06,347.65 753.27,348.03 753.48,345.33 753.69,348.81 753.91,352.27 754.12,351.73 754.33,345.37 754.54,354.80 754.75,351.24 754.96,347.73 755.17,349.66 755.39,351.52 755.60,354.65 755.81,351.95 756.02,344.66 756.23,345.26 756.44,345.73 756.65,359.07 756.86,350.32 757.08,354.00 757.29,348.88 757.50,347.86 757.71,355.43 757.92,355.30 758.13,354.54 758.34,354.76 758.56,345.70 758.77,353.15 758.98,354.12 759.19,347.09 759.40,345.10 759.61,345.24 759.82,345.36 760.04,347.89 760.25,355.45 760.46,348.78 760.67,351.39 760.88,347.08 761.09,348.38 761.30,353.70 761.52,347.81 761.73,346.32 761.94,343.96 762.15,344.71 762.36,349.88 762.57,351.95 762.78,344.11 763.00,345.41 763.21,346.32 763.42,346.38 763.63,349.78 763.84,343.14 764.05,348.44 764.26,343.04 764.47,345.15 764.69,350.61 764.90,345.77 765.11,347.41 765.32,346.22 765.53,343.57 765.74,345.29 765.95,349.55 766.17,343.21 766.38,345.48 766.59,349.27 766.80,344.67 767.01,344.86 767.22,347.05 767.43,349.99 767.65,347.94 767.86,348.90 768.07,342.80 768.28,351.62 768.49,345.63 768.70,343.37 768.91,353.39 769.13,347.81 769.34,347.27 769.55,348.97 769.76,343.41 769.97,345.52 770.18,346.47 770.39,351.94 770.61,342.87 770.82,342.93 771.03,359.81 771.24,342.97 771.45,366.86 771.66,345.90 771.87,362.97 772.09,343.10 772.30,383.10 772.51,347.18 772.72,390.23 772.93,356.56 773.14,382.39 773.35,363.65 773.56,381.12 773.78,371.22 773.99,384.53 774.20,380.22 774.41,388.79 774.62,382.27 774.83,387.30 775.04,374.83 775.26,383.97 775.47,364.24 775.68,387.13 775.89,361.89 776.10,383.42 776.31,365.00 776.52,390.45 776.74,366.83 776.95,387.85 777.16,367.59 777.37,379.61 777.58,365.19 777.79,391.99 778.00,368.55 778.22,384.85 778.43,366.15 778.64,380.21 778.85,366.07 779.06,375.90 779.27,369.29 779.48,390.11 779.70,362.11 779.91,389.00 780.12,361.76 780.33,379.82 780.54,364.11 780.75,381.52 780.96,360.23 781.17,377.00 781.39,359.34 781.60,374.94 781.81,360.18 782.02,378.16 782.23,357.32 782.44,377.47 782.65,361.15 782.87,370.91 783.08,362.21 783.29,379.76 783.50,362.80 783.71,370.25 783.92,361.69 784.13,379.03 784.35,358.72 784.56,374.70 784.77,359.55 784.98,377.26 785.19,358.48 785.40,369.68 785.61,358.59 785.83,367.63 786.04,359.60 786.25,370.09 786.46,358.72 786.67,368.36 786.88,358.21 787.09,367.06 787.31,358.42 787.52,359.49 787.73,363.72 787.94,365.40 788.15,366.55 788.36,366.37 788.57,369.92 788.79,358.28 789.00,360.09 789.21,362.25 789.42,359.64 789.63,361.17 789.84,365.28 790.05,359.53 790.26,356.97 790.48,360.55 790.69,355.18 790.90,355.68 791.11,354.96 791.32,355.96 791.53,358.49 791.74,356.13 791.96,355.25 792.17,356.29 792.38,358.19 792.59,358.29 792.80,363.94 793.01,363.07 793.22,361.59 793.44,355.68 793.65,362.50 793.86,354.50 794.07,359.43 794.28,355.30 794.49,360.21 794.70,353.85 794.92,354.58 795.13,353.04 795.34,356.73 795.55,360.57 795.76,355.70 795.97,360.50 796.18,355.26 796.40,363.46 796.61,363.63 796.82,353.39 797.03,354.51 797.24,353.87 797.45,357.70 797.66,360.51 797.87,360.55 798.09,357.54 798.30,356.21 798.51,359.33 798.72,354.54 798.93,360.23 799.14,354.15 799.35,359.12 799.57,359.00 799.78,356.96 799.99,361.55 800.20,355.36 800.41,354.16 800.62,354.03 800.83,354.23 801.05,359.33 801.26,353.58 801.47,359.78 801.68,356.69 801.89,356.51 802.10,354.69 802.31,359.00 802.53,352.37 802.74,357.65 802.95,356.63 803.16,355.85 803.37,358.36 803.58,351.31 803.79,356.59 804.01,350.98 804.22,355.66 804.43,354.80 804.64,353.44 804.85,355.14 805.06,351.33 805.27,350.28 805.49,350.04 805.70,355.58 805.91,349.80 806.12,351.78 806.33,349.35 806.54,351.09 806.75,352.40 806.96,353.09 807.18,352.98 807.39,352.18 807.60,347.68 807.81,348.12 808.02,350.50 808.23,350.32 808.44,349.77 808.66,348.58 808.87,351.00 809.08,348.94 809.29,351.00 809.50,354.78 809.71,350.81 809.92,348.90 810.14,353.50 810.35,355.24 810.56,354.98 810.77,351.39 810.98,355.21 811.19,348.70 811.40,348.54 811.62,348.92 811.83,356.99 812.04,354.86 812.25,347.88 812.46,353.15 812.67,353.61 812.88,354.58 813.10,350.54 813.31,349.77 813.52,346.60 813.73,346.48 813.94,350.00 814.15,347.63 814.36,345.94 814.57,350.05 814.79,347.88 815.00,348.33 815.21,346.69 815.42,346.32 815.63,347.27 815.84,348.31 816.05,354.48 816.27,346.15 816.48,351.30 816.69,353.08 816.90,347.50 817.11,354.93 817.32,348.11 817.53,354.19 817.75,346.78 817.96,347.51 818.17,351.80 818.38,354.04 818.59,349.26 818.80,351.67 819.01,352.11 819.23,354.03 819.44,348.16 819.65,355.75 819.86,355.25 820.07,353.24 820.28,356.25 820.49,348.24 820.71,350.78 820.92,350.22 821.13,348.97 821.34,348.95 821.55,352.68 821.76,350.63 821.97,349.64 822.18,353.99 822.40,352.78 822.61,359.44 822.82,356.45 823.03,349.60 823.24,351.37 823.45,361.01 823.66,353.39 823.88,359.35 824.09,350.57 824.30,359.66 824.51,355.32 824.72,353.48 824.93,358.43 825.14,350.10 825.36,354.07 825.57,355.47 825.78,351.78 825.99,348.59 826.20,348.13 826.41,346.90 826.62,351.23 826.84,351.37 827.05,349.37 827.26,354.95 827.47,353.19 827.68,350.39 827.89,349.91 828.10,347.61 828.32,355.56 828.53,353.94 828.74,351.49 828.95,347.88 829.16,354.73 829.37,355.24 829.58,356.21 829.80,348.21 830.01,349.79 830.22,346.48 830.43,348.68 830.64,354.12 830.85,351.37 831.06,351.59 831.27,352.91 831.49,347.68 831.70,347.66 831.91,344.54 832.12,346.31 832.33,355.49 832.54,351.33 832.75,348.95 832.97,351.89 833.18,345.24 833.39,350.02 833.60,354.35 833.81,348.77 834.02,347.95 834.23,345.91 834.45,353.48 834.66,343.22 834.87,353.02 835.08,353.47 835.29,346.69 835.50,344.96 835.71,343.59 835.93,349.35 836.14,351.03 836.35,349.24 836.56,349.65 836.77,342.33 836.98,343.40 837.19,343.47 837.41,348.25 837.62,345.32 837.83,344.66 838.04,341.91 838.25,346.41 838.46,351.97 838.67,343.59 838.88,352.76 839.10,345.10 839.31,342.09 839.52,348.69 839.73,348.53 839.94,340.97 840.15,344.79 840.36,340.84 840.58,346.34 840.79,350.52 841.00,345.97 841.21,341.08 841.42,350.91 841.63,353.78 841.84,353.82 842.06,341.85 842.27,345.89 842.48,349.80 842.69,341.41 842.90,346.97 843.11,350.55 843.32,341.96 843.54,349.33 843.75,344.62 843.96,342.14 844.17,343.99 844.38,342.47 844.59,348.57 844.80,343.10 845.02,351.70 845.23,352.63 845.44,337.99 845.65,342.79 845.86,343.58 846.07,340.93 846.28,339.63 846.50,349.53 846.71,337.37 846.92,342.81 847.13,350.64 847.34,338.43 847.55,337.81 847.76,341.96 847.97,337.22 848.19,343.99 848.40,337.08 848.61,336.59 848.82,339.05 849.03,335.86 849.24,336.97 849.45,340.33 849.67,337.13 849.88,335.72 850.09,344.75 850.30,341.55 850.51,340.34 850.72,338.13 850.93,337.15 851.15,340.49 851.36,345.74 851.57,349.36 851.78,350.32 851.99,340.25 852.20,350.00 852.41,348.53 852.63,343.16 852.84,344.24 853.05,337.98 853.26,334.17 853.47,344.74 853.68,334.92 853.89,333.07 854.11,337.05 854.32,333.87 854.53,338.12 854.74,348.05 854.95,336.86 855.16,346.80 855.37,331.58 855.58,345.35 855.80,331.29 856.01,352.88 856.22,330.32 856.43,357.94 856.64,332.05 856.85,354.49 857.06,333.56 857.28,357.55 857.49,329.86 857.70,359.47 857.91,331.28 858.12,353.39 858.33,328.25 858.54,355.21 858.76,329.20 858.97,344.09 859.18,328.51 859.39,360.47 859.60,330.69 859.81,353.94 860.02,331.69 860.24,363.35 860.45,333.30 860.66,363.06 860.87,326.50 861.08,349.40 861.29,327.21 861.50,358.32 861.72,326.43 861.93,362.58 862.14,326.92 862.35,360.63 862.56,333.55 862.77,349.95 862.98,355.85 863.20,374.35 863.41,354.19 863.62,367.14 863.83,334.80 864.04,360.31 864.25,331.25 864.46,365.32 864.67,332.44 864.89,361.29 865.10,335.19 865.31,353.25 865.52,333.54 865.73,358.90 865.94,334.23 866.15,350.12 866.37,337.96 866.58,359.43 866.79,336.66 867.00,365.26 867.21,329.83 867.42,363.40 867.63,334.87 867.85,362.25 868.06,329.54 868.27,354.33 868.48,329.78 868.69,346.02 868.90,335.89 869.11,352.40 869.33,333.01 869.54,358.74 869.75,330.32 869.96,356.04 870.17,330.49 870.38,353.19 870.59,330.52 870.81,357.30 871.02,333.06 871.23,356.42 871.44,332.36 871.65,353.79 871.86,333.22 872.07,353.62 872.28,334.04 872.50,349.39 872.71,334.90 872.92,352.67 873.13,335.65 873.34,350.09 873.55,334.77 873.76,352.45 873.98,338.09 874.19,365.79 874.40,383.75 874.61,370.25 874.82,340.80 875.03,356.15 875.24,337.29 875.46,355.99 875.67,335.75 875.88,344.41 876.09,336.06 876.30,355.41 876.51,331.78 876.72,359.64 876.94,328.81 877.15,348.89 877.36,329.62 877.57,357.16 877.78,335.48 877.99,344.00 878.20,335.99 878.42,359.62 878.63,335.96 878.84,349.30 879.05,331.96 879.26,349.83 879.47,337.72 879.68,349.41 879.90,330.67 880.11,355.92 880.32,335.72 880.53,360.04 880.74,331.98 880.95,354.42 881.16,335.46 881.37,356.11 881.59,334.91 881.80,362.30 882.01,333.20 882.22,353.29 882.43,331.11 882.64,354.18 882.85,330.67 883.07,356.91 883.28,330.16 883.49,354.06 883.70,330.26 883.91,362.51 884.12,338.66 884.33,365.37 884.55,330.75 884.76,350.57 884.97,336.10 885.18,359.23 885.39,337.98 885.60,366.65 885.81,333.63 886.03,360.05 886.24,335.89 886.45,358.96 886.66,336.35 886.87,358.20 887.08,338.77 887.29,365.64 887.51,336.18 887.72,364.78 887.93,339.50 888.14,354.40 888.35,339.12 888.56,362.88 888.77,332.42 888.98,351.06 889.20,333.84 889.41,358.47 889.62,336.64 889.83,357.07 890.04,335.52 890.25,355.52 890.46,332.98 890.68,348.28 890.89,334.54 891.10,361.30 891.31,333.11 891.52,354.79 891.73,337.72 891.94,354.97 892.16,334.99 892.37,347.60 892.58,332.84 892.79,349.14 893.00,337.65 893.21,358.26 893.42,336.97 893.64,351.37 893.85,334.23 894.06,345.76 894.27,332.44 894.48,344.10 894.69,337.78 894.90,352.58 895.12,335.65 895.33,355.32 895.54,332.01 895.75,345.12 895.96,331.29 896.17,353.61 896.38,333.92 896.59,348.43 896.81,331.50 897.02,333.50 897.23,331.34 897.44,341.03 897.65,351.26 897.86,353.71 898.07,341.52 898.29,330.98 898.50,354.50 898.71,352.57 898.92,363.05 899.13,353.07 899.34,346.97 899.55,336.42 899.77,347.29 899.98,330.60 900.19,339.79 900.40,334.08 900.61,332.98 900.82,348.61 901.03,344.67 901.25,343.08 901.46,348.10 901.67,330.83 901.88,335.09 902.09,338.55 902.30,336.63 902.51,335.06 902.73,331.43 902.94,348.75 903.15,331.73 903.36,344.51 903.57,348.51 903.78,337.40 903.99,333.16 904.21,337.27 904.42,337.31 904.63,334.42 904.84,333.17 905.05,330.40 905.26,330.57 905.47,331.57 905.68,333.70 905.90,330.24 906.11,344.82 906.32,330.87 906.53,332.01 906.74,329.65 906.95,340.93 907.16,338.70 907.38,349.74 907.59,365.25 907.80,355.71 908.01,335.73 908.22,330.23 908.43,330.30 908.64,336.79 908.86,345.34 909.07,330.62 909.28,328.80 909.49,317.85 909.70,323.75 909.91,328.47 910.12,337.78 910.34,339.09 910.55,341.32 910.76,340.89 910.97,333.85 911.18,335.42 911.39,337.49 911.60,338.24 911.82,332.92 912.03,333.94 912.24,334.51 912.45,334.63 912.66,342.93 912.87,337.47 913.08,337.98 913.29,339.49 913.51,337.14 913.72,335.47 913.93,335.07 914.14,335.69 914.35,334.81 914.56,335.04 914.77,340.81 914.99,334.90 915.20,342.36 915.41,335.10 915.62,340.84 915.83,339.64 916.04,336.59 916.25,340.31 916.47,336.13 916.68,345.53 916.89,336.35 917.10,344.90 917.31,353.03 917.52,363.35 917.73,353.74 917.95,342.51 918.16,340.51 918.37,348.81 918.58,345.87 918.79,339.67 919.00,341.28 919.21,346.19 919.43,341.19 919.64,351.05 919.85,351.32 920.06,345.40 920.27,348.38 920.48,352.79 920.69,351.25 920.91,349.56 921.12,342.50 921.33,342.24 921.54,348.58 921.75,343.03 921.96,347.59 922.17,343.61 922.38,344.46 922.60,345.49 922.81,342.95 923.02,344.15 923.23,343.37 923.44,349.65 923.65,344.25 923.86,351.24 924.08,359.98 924.29,373.05 924.50,363.38 924.71,346.95 924.92,348.58 925.13,348.95 925.34,342.11 925.56,343.33 925.77,339.96 925.98,344.05 926.19,339.69 926.40,344.89 926.61,342.58 926.82,344.04 927.04,338.74 927.25,338.18 927.46,340.04 927.67,339.49 927.88,340.69 928.09,337.74 928.30,337.70 928.52,341.43 928.73,344.03 928.94,340.25 929.15,337.29 929.36,341.56 929.57,337.70 929.78,342.48 929.99,341.34 930.21,338.01 930.42,339.43 930.63,336.28 930.84,337.02 931.05,337.02 931.26,338.19 931.47,336.57 931.69,341.19 931.90,337.50 932.11,336.65 932.32,339.34 932.53,335.33 932.74,337.37 932.95,340.07 933.17,338.67 933.38,335.58 933.59,334.01 933.80,335.06" fill="none" stroke="#d62728" stroke-width="2.5" stroke-linejoin="round" stroke-linecap="square"/>
</g>
<g stroke="#000" fill="none" stroke-linecap="butt">
<line x1="165.5" x2="165.5" y1="427.5" y2="424.17" stroke-width="1"/>
<line x1="197.5" x2="197.5" y1="427.5" y2="421.67" stroke-width="1.333"/>
<line x1="229.5" x2="229.5" y1="427.5" y2="424.17" stroke-width="1"/>
<line x1="261.5" x2="261.5" y1="427.5" y2="424.17" stroke-width="1"/>
<line x1="293.5" x2="293.5" y1="427.5" y2="424.17" stroke-width="1"/>
<line x1="325.5" x2="325.5" y1="427.5" y2="424.17" stroke-width="1"/>
<line x1="357.5" x2="357.5" y1="427.5" y2="421.67" stroke-width="1.333"/>
<line x1="389.5" x2="389.5" y1="427.5" y2="424.17" stroke-width="1"/>
<line x1="421.5" x2="421.5" y1="427.5" y2="424.17" stroke-width="1"/>
<line x1="453.5" x2="453.5" y1="427.5" y2="424.17" stroke-width="1"/>
<line x1="485.5" x2="485.5" y1="427.5" y2="424.17" stroke-width="1"/>
<line x1="517.5" x2="517.5" y1="427.5" y2="421.67" stroke-width="1.333"/>
<line x1="549.5" x2="549.5" y1="427.5" y2="424.17" stroke-width="1"/>
<line x1="582.5" x2="582.5" y1="427.5" y2="424.17" stroke-width="1"/>
<line x1="614.5" x2="614.5" y1="427.5" y2="424.17" stroke-width="1"/>
<line x1="646.5" x2="646.5" y1="427.5" y2="424.17" stroke-width="1"/>
<line x1="678.5" x2="678.5" y1="427.5" y2="421.67" stroke-width="1.333"/>
<line x1="710.5" x2="710.5" y1="427.5" y2="424.17" stroke-width="1"/>
<line x1="742.5" x2="742.5" y1="427.5" y2="424.17" stroke-width="1"/>
<line x1="774.5" x2="774.5" y1="427.5" y2="424.17" stroke-width="1"/>
<line x1="806.5" x2="806.5" y1="427.5" y2="424.17" stroke-width="1"/>
<line x1="838.5" x2="838.5" y1="427.5" y2="421.67" stroke-width="1.333"/>
<line x1="870.5" x2="870.5" y1="427.5" y2="424.17" stroke-width="1"/>
<line x1="902.5" x2="902.5" y1="427.5" y2="424.17" stroke-width="1"/>
<line x1="934.5" x2="934.5" y1="427.5" y2="424.17" stroke-width="1"/>
<line x1="966.5" x2="966.5" y1="427.5" y2="424.17" stroke-width="1"/>
<line y1="64.5" y2="64.5" x1="135.5" x2="138.83" stroke-width="1"/>
<line y1="75.5" y2="75.5" x1="135.5" x2="141.33" stroke-width="1.333"/>
<line y1="87.5" y2="87.5" x1="135.5" x2="138.83" stroke-width="1"/>
<line y1="98.5" y2="98.5" x1="135.5" x2="138.83" stroke-width="1"/>
<line y1="110.5" y2="110.5" x1="135.5" x2="138.83" stroke-width="1"/>
<line y1="121.5" y2="121.5" x1="135.5" x2="141.33" stroke-width="1.333"/>
<line y1="133.5" y2="133.5" x1="135.5" x2="138.83" stroke-width="1"/>
<line y1="144.5" y2="144.5" x1="135.5" x2="138.83" stroke-width="1"/>
<line y1="156.5" y2="156.5" x1="135.5" x2="138.83" stroke-width="1"/>
<line y1="167.5" y2="167.5" x1="135.5" x2="141.33" stroke-width="1.333"/>
<line y1="179.5" y2="179.5" x1="135.5" x2="138.83" stroke-width="1"/>
<line y1="190.5" y2="190.5" x1="135.5" x2="138.83" stroke-width="1"/>
<line y1="202.5" y2="202.5" x1="135.5" x2="138.83" stroke-width="1"/>
<line y1="213.5" y2="213.5" x1="135.5" x2="141.33" stroke-width="1.333"/>
<line y1="225.5" y2="225.5" x1="135.5" x2="138.83" stroke-width="1"/>
<line y1="236.5" y2="236.5" x1="135.5" x2="138.83" stroke-width="1"/>
<line y1="248.5" y2="248.5" x1="135.5" x2="138.83" stroke-width="1"/>
<line y1="259.5" y2="259.5" x1="135.5" x2="141.33" stroke-width="1.333"/>
<line y1="271.5" y2="271.5" x1="135.5" x2="138.83" stroke-width="1"/>
<line y1="282.5" y2="282.5" x1="135.5" x2="138.83" stroke-width="1"/>
<line y1="294.5" y2="294.5" x1="135.5" x2="138.83" stroke-width="1"/>
<line y1="305.5" y2="305.5" x1="135.5" x2="141.33" stroke-width="1.333"/>
<line y1="317.5" y2="317.5" x1="135.5" x2="138.83" stroke-width="1"/>
<line y1="328.5" y2="328.5" x1="135.5" x2="138.83" stroke-width="1"/>
<line y1="340.5" y2="340.5" x1="135.5" x2="138.83" stroke-width="1"/>
<line y1="351.5" y2="351.5" x1="135.5" x2="141.33" stroke-width="1.333"/>
<line y1="363.5" y2="363.5" x1="135.5" x2="138.83" stroke-width="1"/>
<line y1="374.5" y2="374.5" x1="135.5" x2="138.83" stroke-width="1"/>
<line y1="386.5" y2="386.5" x1="135.5" x2="138.83" stroke-width="1"/>
<line y1="397.5" y2="397.5" x1="135.5" x2="141.33" stroke-width="1.333"/>
<line y1="409.5" y2="409.5" x1="135.5" x2="138.83" stroke-width="1"/>
<line y1="421.5" y2="421.5" x1="135.5" x2="138.83" stroke-width="1"/>
<rect x="135.5" y="58.5" width="837" height="369" stroke-width="1.333"/>
</g>
<g>
<text x="197.00" y="445.0" text-anchor="middle" letter-spacing="-0.2">4000</text>
<text x="356.55" y="445.0" text-anchor="middle" letter-spacing="-0.2">5000</text>
<text x="516.55" y="445.0" text-anchor="middle" letter-spacing="-0.2">6000</text>
<text x="677.55" y="445.0" text-anchor="middle" letter-spacing="-0.2">7000</text>
<text x="837.55" y="445.0" text-anchor="middle" letter-spacing="-0.2">8000</text>
<text x="129.05" y="81.35" text-anchor="end" dx="0 -0.8">14</text>
<text x="129.05" y="127.35" text-anchor="end" dx="0 -0.8">12</text>
<text x="129.05" y="173.35" text-anchor="end" dx="0 -0.8">10</text>
<text x="129.85" y="219.35" text-anchor="end">8</text>
<text x="129.85" y="265.35" text-anchor="end">6</text>
<text x="129.85" y="311.35" text-anchor="end">4</text>
<text x="129.85" y="357.35" text-anchor="end">2</text>
<text x="129.85" y="403.35" text-anchor="end">0</text>
<text x="553.4" y="469.65" text-anchor="middle">Wavelength [Å]</text>
<text transform="translate(97.3,243.3) rotate(-90)" text-anchor="middle">Relative flux</text>
<text x="553.15" y="48.0" text-anchor="middle" style="font-size:20px">AG Peg | 2025-09-03 | 20:09:53 | FTE</text>
</g>
</svg>
</body></html>
